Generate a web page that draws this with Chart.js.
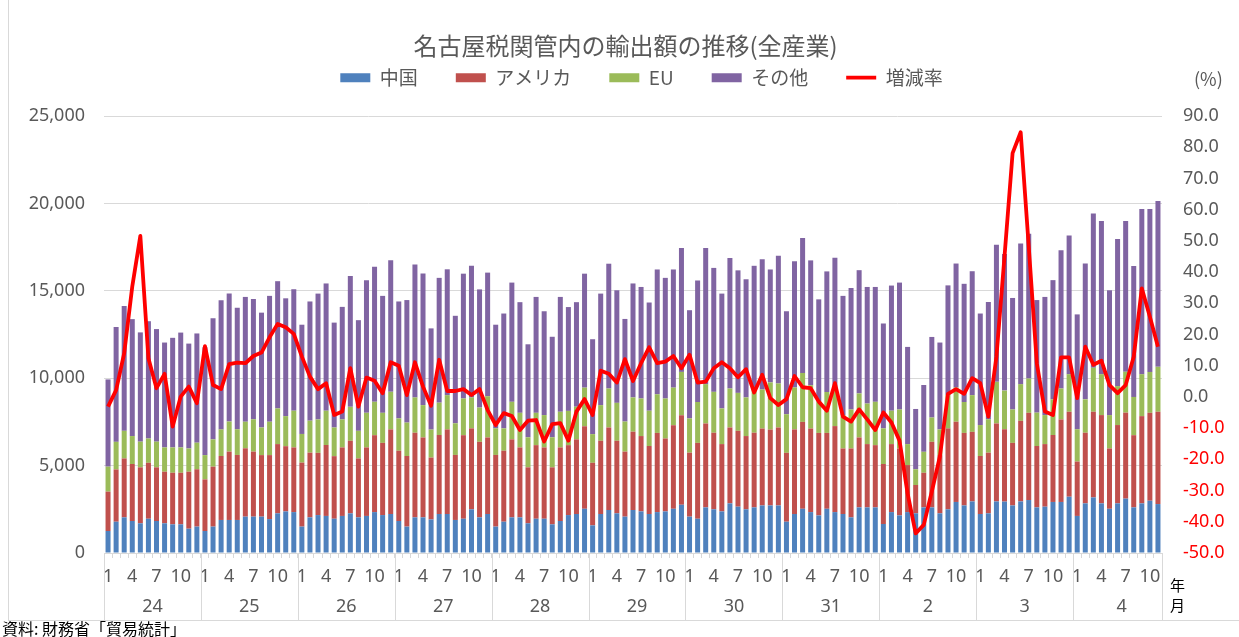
<!DOCTYPE html>
<html><head><meta charset="utf-8">
<script src="https://cdn.jsdelivr.net/npm/chart.js@4/dist/chart.umd.min.js"></script>
<style>
html,body{margin:0;padding:0;background:#fff;}
#wrap{position:relative;width:1239px;height:637px;overflow:hidden;background:#fff;}
#c{position:absolute;left:0;top:0;}
.t{position:absolute;font-family:"Noto Sans CJK JP","Noto Sans",sans-serif;white-space:nowrap;line-height:1;}
#frame{position:absolute;left:8px;top:0;width:1240px;height:621px;border-left:1px solid #d9d9d9;border-bottom:1px solid #d9d9d9;box-sizing:border-box;}
</style></head><body>
<div id="wrap">
<div id="frame"></div>
<canvas id="c" width="1239" height="637"></canvas>
<div class="t" style="left:1194px;top:69px;font-size:18px;color:#595959">(%)</div>
<div class="t" style="left:1170px;top:577px;font-size:15px;color:#000">年</div>
<div class="t" style="left:1170px;top:597px;font-size:15px;color:#000">月</div>
<div class="t" style="left:2px;top:620px;font-size:16px;color:#000">資料: 財務省「貿易統計」</div>
</div>
<script>
// ---- data ----
const years = ['24','25','26','27','28','29','30','31','2','3','4'];
const monthsPerYear = [12,12,12,12,12,12,12,12,12,12,11];
const monthTickLabels = [1,4,7,10];
const leftTicks = [0,5000,10000,15000,20000,25000];

const china = [
 1260,1790,2040,1830,1700,1960,1830,1700,1640,1640,1390,1510,
 1260,1510,1890,1890,1890,2080,2080,2080,1940,2270,2380,2340,
 1510,2040,2170,2120,1960,2120,2270,2040,2120,2340,2170,2230,
 1830,1510,2040,2040,1920,2230,2230,1890,1960,2500,2040,2230,
 1510,1790,2040,2040,1700,1960,1960,1640,1830,2170,2230,2530,
 1580,2230,2460,2270,2080,2460,2380,2230,2340,2380,2530,2760,
 2080,1960,2610,2500,2380,2840,2650,2500,2610,2720,2720,2720,
 1790,2230,2530,2340,2150,2530,2340,2230,2040,2610,2610,2610,
 1660,2340,2150,2340,2270,2610,2610,2270,2500,2920,2720,2950,
 2230,2270,2950,2940,2720,2950,3030,2610,2650,2920,2920,3220,
 2120,2840,3180,2840,2530,2840,3110,2610,2840,2990,2800
];
const usa = [
 2250,2990,3370,3260,3200,3200,3070,2950,2950,2950,3260,3280,
 2950,3430,3660,3910,3720,3910,3720,3520,3660,3960,3730,3700,
 3660,3700,3560,4060,3580,3920,4150,3370,3920,4400,4130,4840,
 4020,4040,4840,4570,3540,4520,4840,3720,4780,4630,4320,4380,
 4100,4060,4460,4000,3200,4210,4080,3260,4210,4000,4270,4720,
 3580,4190,4720,4150,3720,4480,4310,3890,4530,4170,4780,5120,
 3660,4340,4800,4380,3850,4340,4340,4190,4270,4400,4340,4460,
 3940,4840,4970,4780,4720,4340,4920,3750,3940,4000,3620,3560,
 3430,3890,3830,2690,1620,1980,3750,3330,4630,4590,4150,3980,
 3320,3470,4460,4140,3580,4610,4990,3510,3580,3830,4720,4860,
 3110,4040,4900,5050,3450,4480,4920,4130,4990,5030,5280
];
const eu = [
 1430,1580,1580,1600,1470,1390,1470,1390,1450,1450,1330,1520,
 1390,1560,1520,1720,1470,1520,1850,1580,1910,2040,1720,2100,
 1640,1830,1910,1960,1640,1600,1940,1580,1980,1910,1720,2150,
 1850,1910,2020,1850,1600,1850,1960,1810,2100,1770,1960,2360,
 1520,1280,2150,1980,1720,1850,1850,1720,2040,1960,1870,2210,
 1640,2040,2230,2170,1720,1960,2150,2020,2210,2290,2150,2480,
 1960,2340,2250,2340,2040,2230,2170,2210,2480,2230,2700,2520,
 2210,2400,2800,2480,1800,2340,2100,1910,2230,2520,2320,2480,
 2040,1910,2230,1200,900,1200,1390,1470,1910,1960,1770,2100,
 1770,1910,2380,2210,1910,2100,1960,1910,1660,2040,1770,2150,
 1850,1910,2520,2340,1910,2230,2340,2190,2400,2340,2570
];
const other = [
 4990,6570,7140,6690,6250,6710,6440,6000,6270,6570,6000,6250,
 6170,6930,7390,7330,6950,7140,6880,6570,7200,7280,6740,6950,
 6250,6820,7200,7280,6000,6440,7490,6330,7580,7720,6690,7530,
 6690,7010,7600,7530,5790,7140,7200,6150,7140,7540,6760,7070,
 5930,6570,6820,6330,5320,6630,5940,5750,6570,5940,5980,6520,
 5430,6380,7140,6440,5870,6520,6380,6190,7140,6900,6760,7090,
 6190,6950,7790,7090,6570,7470,7010,6760,7070,7450,6460,7300,
 5890,7220,7720,7140,5840,6900,7530,6820,6950,7050,6670,6570,
 6000,7160,7260,5560,3450,3820,4610,4970,6270,7090,6760,7090,
 6380,6710,7850,7820,6380,8040,8290,6440,6760,6820,7910,7930,
 6570,7770,8820,8760,7140,8420,8630,7490,9450,9320,9490
];
const rate = [
 -3.1,2.2,14.0,35.4,51.6,12.4,2.8,7.4,-9.5,0.1,3.3,-2.0,
 16.3,3.8,2.5,10.5,11.0,10.8,13.1,14.2,19.1,23.4,22.3,20.2,
 12.9,6.5,2.5,4.4,-5.8,-4.7,9.2,-3.1,6.2,5.2,1.2,11.1,
 10.0,0.6,11.1,3.3,-2.8,11.9,1.9,1.9,2.5,0.6,2.5,-4.2,
 -9.0,-5.2,-6.1,-10.6,-7.6,-7.4,-14.3,-8.7,-8.4,-14.0,-4.7,-0.7,
 -5.8,8.4,7.4,4.6,12.1,5.1,10.8,15.9,10.8,11.3,13.1,9.2,
 13.5,4.6,4.9,9.2,11.1,9.2,6.3,8.9,1.4,7.1,-0.4,-2.6,
 -0.7,6.7,3.1,2.8,-1.5,-4.4,4.4,-6.3,-7.9,-4.0,-7.2,-10.6,
 -5.0,-8.2,-14.0,-30.9,-43.7,-41.0,-30.3,-19.1,1.0,2.5,1.0,6.0,
 4.4,-6.3,12.9,45.0,78.1,84.8,48.2,10.8,-4.7,-5.8,12.7,12.7,
 -0.4,16.1,10.3,11.6,3.8,1.2,3.8,12.9,34.8,25.7,16.1
];

// ---- derived category structures ----
const months = [];
const yearCenters = [];
const yearBounds = [-0.5];
let idx = 0;
monthsPerYear.forEach((n, k) => {
  for (let m = 1; m <= n; m++) months.push(m);
  yearCenters.push(idx + 5.5);
  idx += n;
  yearBounds.push(idx - 0.5);
});
const N = months.length;

const GRID = '#d9d9d9';
const TXT = '#595959';
const NUMFONT = '"Noto Sans", sans-serif';
const JPFONT = '"Noto Sans CJK JP", "Noto Sans", sans-serif';
Chart.defaults.font.family = NUMFONT;

// title: size 24 -> lineHeight 28.8; top pad 31.6 => centre ~46; box height 30.2
// legend: itemHeight 19 + pad 38 + 10 = 67 => text centre ~77.7, bottom 97.2
const SPACER_H = 116 - 30.2 - 67;
const LEGEND_SHIFT = 22;
const TITLE_SHIFT = 6;

const spacerPlugin = {
  id: 'legendSpacer',
  beforeInit(chart) {
    const box = {
      position: 'top', weight: 100, fullSize: true, options: {},
      left: 0, top: 0, right: 0, bottom: 0, width: 0, height: 0,
      isHorizontal() { return true; },
      update(maxWidth) { this.width = maxWidth; this.height = SPACER_H; },
      draw() {}
    };
    Chart.layouts.addBox(chart, box);
  },
  afterLayout(chart) {
    if (chart.legend) { chart.legend.left += LEGEND_SHIFT; chart.legend.right += LEGEND_SHIFT; }
    if (chart.titleBlock) { chart.titleBlock.left += TITLE_SHIFT; chart.titleBlock.right += TITLE_SHIFT; }
  }
};

const sepPlugin = {
  id: 'yearSeparators',
  afterDraw(chart) {
    const s = chart.scales.xYear, a = chart.chartArea, c = chart.ctx;
    c.save();
    c.strokeStyle = GRID; c.lineWidth = 1;
    yearBounds.forEach(b => {
      const x = Math.round(s.getPixelForValue(b)) + 0.5;
      c.beginPath(); c.moveTo(x, a.bottom); c.lineTo(x, 620); c.stroke();
    });
    c.restore();
  }
};

const barCommon = { type: 'bar', stack: 's', order: 1, barPercentage: 0.62, categoryPercentage: 1.0, borderWidth: 0 };

new Chart(document.getElementById('c'), {
  data: {
    labels: months,
    datasets: [
      Object.assign({ label: '中国', data: china, backgroundColor: '#4F81BD' }, barCommon),
      Object.assign({ label: 'アメリカ', data: usa, backgroundColor: '#C0504D' }, barCommon),
      Object.assign({ label: 'EU', data: eu, backgroundColor: '#9BBB59' }, barCommon),
      Object.assign({ label: 'その他', data: other, backgroundColor: '#8064A2' }, barCommon),
      { type: 'line', label: '増減率', data: rate, yAxisID: 'y1', order: 0,
        borderColor: '#FF0000', backgroundColor: '#FF0000', borderWidth: 3.8,
        pointRadius: 0, pointBorderWidth: 3.8, tension: 0, borderJoinStyle: 'round' }
    ]
  },
  options: {
    responsive: false, animation: false, devicePixelRatio: 1,
    layout: { padding: { left: 0, right: 0, top: 0, bottom: 22 } },
    plugins: {
      tooltip: { enabled: false },
      title: { display: true, text: '名古屋税関管内の輸出額の推移(全産業)', color: TXT,
        font: { family: JPFONT, size: 24, weight: 'normal' }, padding: { top: 31.6, bottom: -30.2 } },
      legend: {
        display: true,
        labels: {
          usePointStyle: true, pointStyleWidth: 30, boxHeight: 9, color: TXT, padding: 38,
          font: { family: JPFONT, size: 19 },
          generateLabels(chart) {
            const items = Chart.defaults.plugins.legend.labels.generateLabels(chart);
            items.sort((a, b) => a.datasetIndex - b.datasetIndex);
            items.forEach(it => {
              if (it.datasetIndex === 4) { it.pointStyle = 'line'; it.lineWidth = 3.8; it.strokeStyle = '#FF0000'; }
              else { it.pointStyle = 'rect'; it.lineWidth = 0; }
            });
            return items;
          }
        }
      }
    },
    scales: {
      x: {
        type: 'category', stacked: true, offset: true, weight: 0,
        grid: { display: true, drawOnChartArea: false, offset: true, tickLength: 5, color: GRID },
        border: { display: true, color: GRID },
        ticks: { autoSkip: false, maxRotation: 0, padding: 8, color: TXT, font: { size: 18 },
          callback: (v, i) => monthTickLabels.includes(months[i]) ? String(months[i]) : '' },
        afterFit: s => { s.height = 30; }
      },
      xYear: {
        type: 'linear', position: 'bottom', min: -0.5, max: N - 0.5, offset: false, weight: 1,
        grid: { display: false, drawTicks: false }, border: { display: false },
        afterBuildTicks: s => { s.ticks = yearCenters.map(v => ({ value: v })); },
        ticks: { autoSkip: false, maxRotation: 0, padding: 13, color: TXT, font: { size: 18 },
          callback: v => { const k = yearCenters.indexOf(v); return k >= 0 ? years[k] : ''; } },
        afterFit: s => { s.height = 32; }
      },
      y: {
        position: 'left', stacked: true, min: 0, max: 25000,
        afterBuildTicks: s => { s.ticks = leftTicks.map(v => ({ value: v })); },
        grid: { color: GRID, drawTicks: false, tickLength: 0 },
        border: { display: false },
        ticks: { padding: 19, color: TXT, font: { size: 18 }, callback: v => v.toLocaleString('en-US') },
        afterFit: s => { s.width = 104; s.paddingTop = 116; }
      },
      y1: {
        position: 'right', min: -50, max: 90,
        grid: { display: false, drawTicks: false },
        border: { display: false },
        ticks: { stepSize: 10, padding: 21, font: { size: 18 },
          color: c => (c.tick && c.tick.value < 0) ? '#FF0000' : TXT,
          callback: v => Number(v).toFixed(1) },
        afterFit: s => { s.width = 77; }
      }
    }
  },
  plugins: [spacerPlugin, sepPlugin]
});
</script>
</body></html>
